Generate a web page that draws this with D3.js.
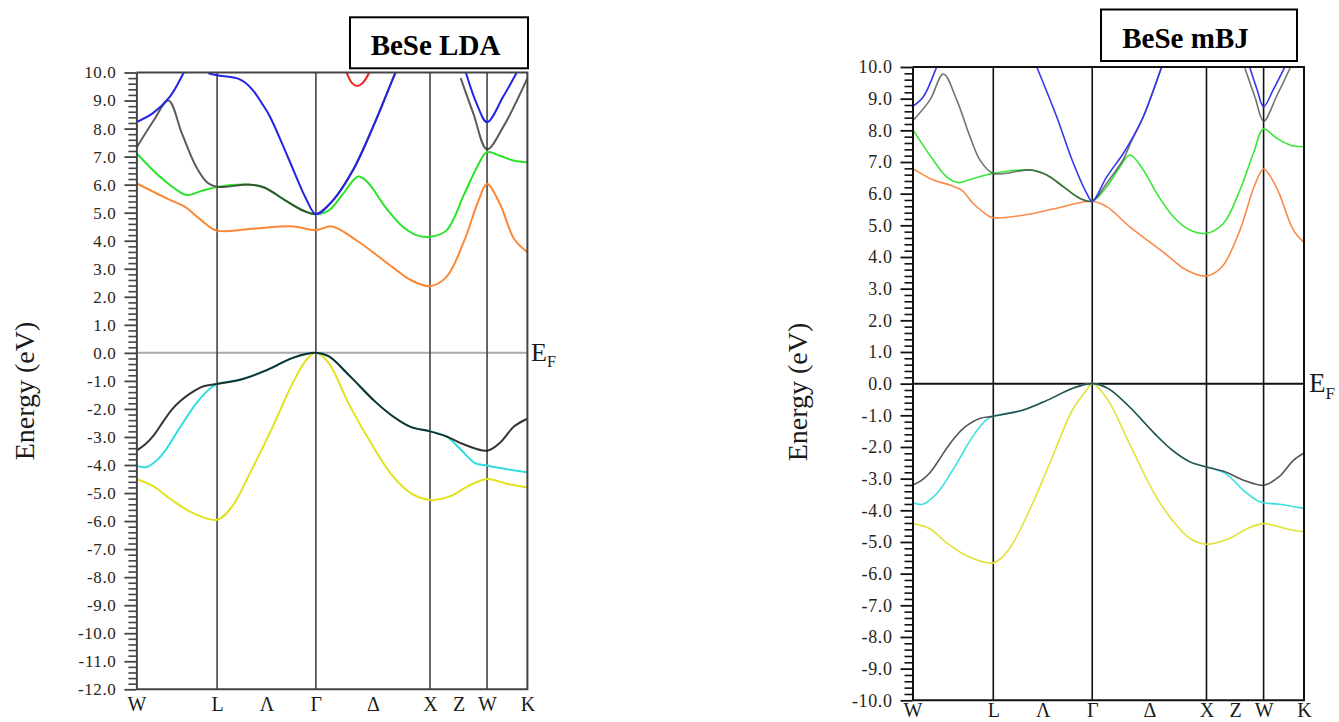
<!DOCTYPE html>
<html>
<head>
<meta charset="utf-8">
<script src="https://cdn.jsdelivr.net/npm/d3@7"></script>
<style>
  body { margin: 0; background: #fff; }
  svg { display: block; }
</style>
</head>
<body>
<svg id="chart" width="1339" height="722"></svg>
<script>
// ---- k-path W–L–Γ–X–W–K (path length in units of 2π/a) ----
const kSym = [0, 0.7071, 1.5731, 2.5731, 3.0731, 3.4267];
const kTickPos = [0, 0.7071, 1.1401, 1.5731, 2.0731, 2.5731, 2.8231, 3.0731, 3.4267];
const kTickLabels = ["W", "L", "Λ", "Γ", "Δ", "X", "Z", "W", "K"];

// ---- BeSe LDA bands: [k, E (eV)], one array per visible piece ----
const ldaYellow = [[[0,-4.50],[0.150,-4.76],[0.307,-5.24],[0.494,-5.71],[0.7071,-5.95],[0.839,-5.48],[0.995,-4.29],[1.183,-2.74],[1.371,-1.07],[1.496,-0.22],[1.5731,0],[1.684,-0.36],[1.871,-1.90],[2.090,-3.45],[2.247,-4.40],[2.403,-5.00],[2.5731,-5.24],[2.748,-5.12],[2.904,-4.76],[3.0731,-4.50],[3.248,-4.67],[3.4267,-4.80]]];
const ldaCyan = [[[0,-4.02],[0.088,-4.07],[0.213,-3.69],[0.369,-2.74],[0.526,-1.79],[0.651,-1.25],[0.7071,-1.11],[0.933,-0.93],[1.152,-0.60],[1.371,-0.18],[1.5731,0],[1.684,-0.12],[1.871,-0.83],[2.090,-1.73],[2.247,-2.26],[2.403,-2.64],[2.5731,-2.80],[2.716,-2.98],[2.842,-3.45],[2.967,-3.93],[3.0731,-4.02],[3.186,-4.11],[3.4267,-4.26]]];
const ldaBlack = [[[0,-3.49],[0.075,-3.27],[0.150,-2.95],[0.230,-2.48],[0.307,-2.04],[0.385,-1.72],[0.463,-1.47],[0.588,-1.19],[0.7071,-1.11],[0.933,-0.93],[1.152,-0.60],[1.371,-0.18],[1.5731,0],[1.684,-0.12],[1.871,-0.83],[2.090,-1.73],[2.247,-2.26],[2.403,-2.64],[2.5731,-2.80],[2.716,-2.98],[2.873,-3.27],[3.0731,-3.49],[3.186,-3.21],[3.311,-2.62],[3.4267,-2.35]]];
const ldaOrange = [[[0,6.05],[0.275,5.49],[0.432,5.19],[0.557,4.77],[0.7071,4.36],[0.995,4.42],[1.371,4.51],[1.5731,4.38],[1.715,4.51],[1.934,4.00],[2.247,3.05],[2.403,2.60],[2.5731,2.38],[2.716,2.70],[2.873,4.00],[2.998,5.43],[3.0731,6.02],[3.186,5.31],[3.311,4.06],[3.4267,3.59]]];
const ldaGreen = [[[0,7.13],[0.213,6.26],[0.441,5.63],[0.557,5.76],[0.7071,5.92],[0.995,6.00],[1.120,5.90],[1.308,5.43],[1.465,5.07],[1.5731,4.95],[1.684,5.07],[1.809,5.66],[1.944,6.29],[2.028,6.08],[2.184,5.19],[2.341,4.48],[2.466,4.18],[2.5731,4.14],[2.716,4.36],[2.873,5.66],[2.998,6.73],[3.0731,7.16],[3.186,7.03],[3.311,6.85],[3.4267,6.80]]];
const ldaGray = [
  [[0,7.31],[0.150,8.28],[0.280,9.00],[0.401,7.80],[0.526,6.62],[0.620,6.08],[0.7071,5.92],[0.995,6.00],[1.120,5.90],[1.308,5.43],[1.465,5.07],[1.5731,4.95],[1.725,5.45],[1.900,6.53],[2.075,8.07],[2.250,9.80],[2.300,10.30]],
  [[2.842,9.80],[2.952,8.55],[3.0731,7.26],[3.216,8.07],[3.4267,9.80]]
];
const ldaBlue = [
  [[0,8.23],[0.145,8.55],[0.294,9.14],[0.416,10.0],[0.450,10.25]],
  [[0.630,9.97],[0.7071,9.90],[0.879,9.80],[0.950,9.65],[1.024,9.35],[1.100,8.90],[1.170,8.43],[1.331,6.95],[1.492,5.45],[1.5731,4.95],[1.725,5.45],[1.900,6.53],[2.075,8.07],[2.250,9.80],[2.300,10.30]],
  [[2.880,10.1],[2.894,9.91],[2.981,8.90],[3.0731,8.23],[3.215,9.14],[3.340,10.05]]
];
const ldaRed = [[[1.835,10.1],[1.842,10.0],[1.890,9.62],[1.935,9.52],[1.980,9.62],[2.040,10.0],[2.047,10.1]]];

// ---- BeSe mBJ bands ----
const mbjYellow = [[[0,-4.42],[0.151,-4.58],[0.307,-5.05],[0.494,-5.47],[0.7071,-5.66],[0.838,-5.26],[1.025,-3.99],[1.212,-2.42],[1.399,-0.84],[1.524,-0.20],[1.5731,0],[1.711,-0.52],[1.898,-1.89],[2.117,-3.47],[2.273,-4.31],[2.429,-4.89],[2.5731,-5.07],[2.772,-4.89],[2.928,-4.58],[3.0731,-4.42],[3.271,-4.58],[3.4267,-4.68]]];
const mbjCyan = [[[0,-3.75],[0.088,-3.81],[0.213,-3.47],[0.369,-2.63],[0.525,-1.68],[0.650,-1.13],[0.7071,-1.03],[0.962,-0.84],[1.181,-0.52],[1.399,-0.15],[1.5731,0],[1.711,-0.15],[1.898,-0.73],[2.117,-1.57],[2.273,-2.10],[2.429,-2.47],[2.5731,-2.63],[2.740,-2.84],[2.897,-3.37],[3.021,-3.70],[3.0731,-3.76],[3.209,-3.81],[3.4267,-3.94]]];
const mbjBlack = [[[0,-3.21],[0.075,-3.06],[0.151,-2.82],[0.230,-2.42],[0.307,-2.00],[0.385,-1.64],[0.463,-1.36],[0.588,-1.10],[0.7071,-1.03],[0.962,-0.84],[1.181,-0.52],[1.399,-0.15],[1.5731,0],[1.711,-0.15],[1.898,-0.73],[2.117,-1.57],[2.273,-2.10],[2.429,-2.47],[2.5731,-2.63],[2.740,-2.79],[2.897,-3.05],[3.0731,-3.21],[3.209,-2.94],[3.334,-2.42],[3.4267,-2.19]]];
const mbjOrange = [[[0,6.80],[0.182,6.43],[0.328,6.27],[0.431,6.11],[0.532,5.69],[0.678,5.27],[0.7071,5.24],[0.970,5.32],[1.262,5.54],[1.5731,5.76],[1.700,5.59],[1.903,4.95],[2.210,4.11],[2.397,3.59],[2.5731,3.40],[2.709,3.69],[2.866,4.85],[2.990,6.22],[3.0731,6.78],[3.140,6.50],[3.209,6.01],[3.334,4.85],[3.4267,4.46]]];
const mbjGreen = [[[0,8.04],[0.182,7.06],[0.299,6.53],[0.401,6.35],[0.532,6.48],[0.7071,6.64],[1.028,6.75],[1.175,6.59],[1.320,6.22],[1.466,5.85],[1.5731,5.76],[1.700,6.22],[1.816,6.85],[1.903,7.22],[2.020,6.75],[2.137,6.01],[2.283,5.27],[2.428,4.85],[2.5731,4.75],[2.721,5.06],[2.866,6.11],[2.983,7.27],[3.0731,8.04],[3.188,7.75],[3.304,7.54],[3.4267,7.48]]];
const mbjGray = [
  [[0,8.29],[0.153,8.96],[0.270,9.78],[0.387,8.96],[0.503,7.80],[0.591,7.06],[0.7071,6.64],[1.028,6.75],[1.175,6.59],[1.320,6.22],[1.466,5.85],[1.5731,5.76],[1.700,6.33],[1.845,7.08],[1.903,7.55],[2.020,8.43],[2.181,10.0],[2.220,10.38]],
  [[2.910,9.96],[2.925,9.80],[3.000,9.02],[3.0731,8.29],[3.190,9.10],[3.304,9.96],[3.315,10.05]]
];
const mbjBlue = [
  [[0,8.75],[0.095,9.06],[0.212,10.0],[0.240,10.22]],
  [[1.060,10.25],[1.088,10.0],[1.262,8.43],[1.408,6.96],[1.525,6.01],[1.5731,5.76],[1.700,6.53],[1.845,7.27],[1.903,7.62],[2.020,8.43],[2.181,10.0],[2.220,10.38]],
  [[2.935,10.17],[2.960,9.90],[3.015,9.30],[3.0731,8.75],[3.160,9.30],[3.245,9.90],[3.270,10.08]]
];

// ---- drawing ----
const svg = d3.select("#chart");
const serif = "'Liberation Serif', 'Times New Roman', serif";

const panels = [
  {
    id: "lda", title: "BeSe LDA",
    x0: 136.4, x1: 527.4, yTop: 72.5, yBot: 689.3, eMin: -12, eMax: 10,
    axisColor: "#444", symColor: "#444", fermiColor: "#aaaaaa", lineW: 2.0,
    tickFont: 17, kFont: 20, kPad: 7.5,
    box: { x: 350, y: 17.3, w: 178, h: 51, tx: 435.5, ty: 55 },
    ylab: { x: 24, y: 391 },
    ef: { x: 531, y: 361, size: 26, sub: 16, dy: 6 },
    bands: [
      { d: ldaYellow, c: "#e2e21c", o: 1 },
      { d: ldaCyan,   c: "#2fdede", o: 1 },
      { d: ldaBlack,  c: "#111111", o: 0.85 },
      { d: ldaOrange, c: "#fb8834", o: 1 },
      { d: ldaGreen,  c: "#28e428", o: 1 },
      { d: ldaGray,   c: "#333333", o: 0.8 },
      { d: ldaBlue,   c: "#2424e6", o: 1 },
      { d: ldaRed,    c: "#ee2222", o: 1 }
    ]
  },
  {
    id: "mbj", title: "BeSe mBJ",
    x0: 912.5, x1: 1304.0, yTop: 67, yBot: 700.3, eMin: -10, eMax: 10,
    axisColor: "#111", symColor: "#111", fermiColor: "#111", lineW: 1.6,
    tickFont: 18, kFont: 20, kPad: 2,
    box: { x: 1101, y: 9.5, w: 196, h: 51.5, tx: 1185.5, ty: 48.3 },
    ylab: { x: 797, y: 392 },
    ef: { x: 1309, y: 391.5, size: 27, sub: 17, dy: 7 },
    bands: [
      { d: mbjYellow, c: "#e2e23a", o: 1 },
      { d: mbjCyan,   c: "#3ae0e0", o: 1 },
      { d: mbjBlack,  c: "#2a2a2a", o: 0.8 },
      { d: mbjOrange, c: "#fa8a48", o: 1 },
      { d: mbjGreen,  c: "#3ae63a", o: 1 },
      { d: mbjGray,   c: "#444444", o: 0.75 },
      { d: mbjBlue,   c: "#3636ee", o: 1 }
    ]
  }
];

panels.forEach(p => {
  const x = d3.scaleLinear().domain([0, kSym[kSym.length - 1]]).range([p.x0, p.x1]);
  const y = d3.scaleLinear().domain([p.eMin, p.eMax]).range([p.yBot, p.yTop]);
  const g = svg.append("g").attr("class", "panel-" + p.id);

  g.append("clipPath").attr("id", "clip-" + p.id)
    .append("rect")
    .attr("x", p.x0).attr("y", p.yTop)
    .attr("width", p.x1 - p.x0).attr("height", p.yBot - p.yTop);

  // Fermi level
  g.append("line")
    .attr("x1", p.x0).attr("x2", p.x1)
    .attr("y1", y(0)).attr("y2", y(0))
    .attr("stroke", p.fermiColor).attr("stroke-width", 2);

  // high-symmetry verticals
  g.selectAll("line.sym").data(kSym.slice(1, -1)).join("line")
    .attr("class", "sym")
    .attr("x1", d => x(d)).attr("x2", d => x(d))
    .attr("y1", p.yTop).attr("y2", p.yBot)
    .attr("stroke", p.symColor).attr("stroke-width", 1.6);

  // bands
  const line = d3.line().x(d => x(d[0])).y(d => y(d[1])).curve(d3.curveCatmullRom.alpha(0.5));
  const bandG = g.append("g").attr("clip-path", `url(#clip-${p.id})`);
  p.bands.forEach(b => {
    bandG.append("g")
      .attr("opacity", b.o)
      .selectAll("path").data(b.d).join("path")
      .attr("d", line)
      .attr("fill", "none")
      .attr("stroke", b.c)
      .attr("stroke-width", p.lineW)
      .attr("stroke-linejoin", "round");
  });

  // frame: top, right, bottom
  g.append("path")
    .attr("d", `M${p.x0},${p.yTop}H${p.x1}V${p.yBot}H${p.x0}`)
    .attr("fill", "none").attr("stroke", p.axisColor).attr("stroke-width", 2);

  // energy axis: major ticks every 1 eV, minor every 0.2 eV
  const majors = d3.range(p.eMin, p.eMax + 0.001, 1);
  const minors = d3.range(p.eMin * 5, p.eMax * 5 + 1).map(v => v / 5)
    .filter(v => Math.abs(v - Math.round(v)) > 1e-6);

  const minorAxis = g.append("g").attr("transform", `translate(${p.x0},0)`)
    .call(d3.axisLeft(y).tickValues(minors).tickSize(8).tickSizeOuter(0).tickFormat(""));
  minorAxis.select(".domain").remove();
  minorAxis.selectAll("line").attr("stroke", p.axisColor).attr("stroke-width", 1.6);

  const majorAxis = g.append("g").attr("transform", `translate(${p.x0},0)`)
    .call(d3.axisLeft(y).tickValues(majors).tickSize(12).tickSizeOuter(0)
      .tickPadding(8).tickFormat(d => d.toFixed(1)));
  majorAxis.select(".domain").attr("stroke", p.axisColor).attr("stroke-width", 2);
  majorAxis.selectAll("line").attr("stroke", p.axisColor).attr("stroke-width", 1.8);
  majorAxis.selectAll("text")
    .attr("font-family", serif).attr("font-size", p.tickFont)
    .attr("letter-spacing", "0.6px").attr("fill", "#2b2418");

  // k-path labels
  const kAxis = g.append("g").attr("transform", `translate(0,${p.yBot})`)
    .call(d3.axisBottom(x).tickValues(kTickPos).tickSize(0).tickPadding(p.kPad)
      .tickFormat((d, i) => kTickLabels[i]));
  kAxis.select(".domain").remove();
  kAxis.selectAll("text")
    .attr("font-family", serif).attr("font-size", p.kFont).attr("fill", "#1a1a1a");

  // E_F label
  const ef = g.append("text")
    .attr("x", p.ef.x).attr("y", p.ef.y)
    .attr("font-family", serif).attr("font-size", p.ef.size).attr("fill", "#1a1a1a")
    .text("E");
  ef.append("tspan").attr("dy", p.ef.dy).attr("font-size", p.ef.sub).text("F");

  // y label
  g.append("text")
    .attr("transform", `translate(${p.ylab.x},${p.ylab.y}) rotate(-90)`)
    .attr("text-anchor", "middle").attr("dominant-baseline", "central")
    .attr("font-family", serif).attr("font-size", 28).attr("fill", "#1a1a1a")
    .text("Energy (eV)");

  // title box
  g.append("rect")
    .attr("x", p.box.x).attr("y", p.box.y)
    .attr("width", p.box.w).attr("height", p.box.h)
    .attr("fill", "#fff").attr("stroke", "#000").attr("stroke-width", 2);
  g.append("text")
    .attr("x", p.box.tx).attr("y", p.box.ty)
    .attr("text-anchor", "middle")
    .attr("font-family", serif).attr("font-weight", "bold").attr("font-size", 29)
    .attr("fill", "#000")
    .text(p.title);
});
</script>
</body>
</html>
